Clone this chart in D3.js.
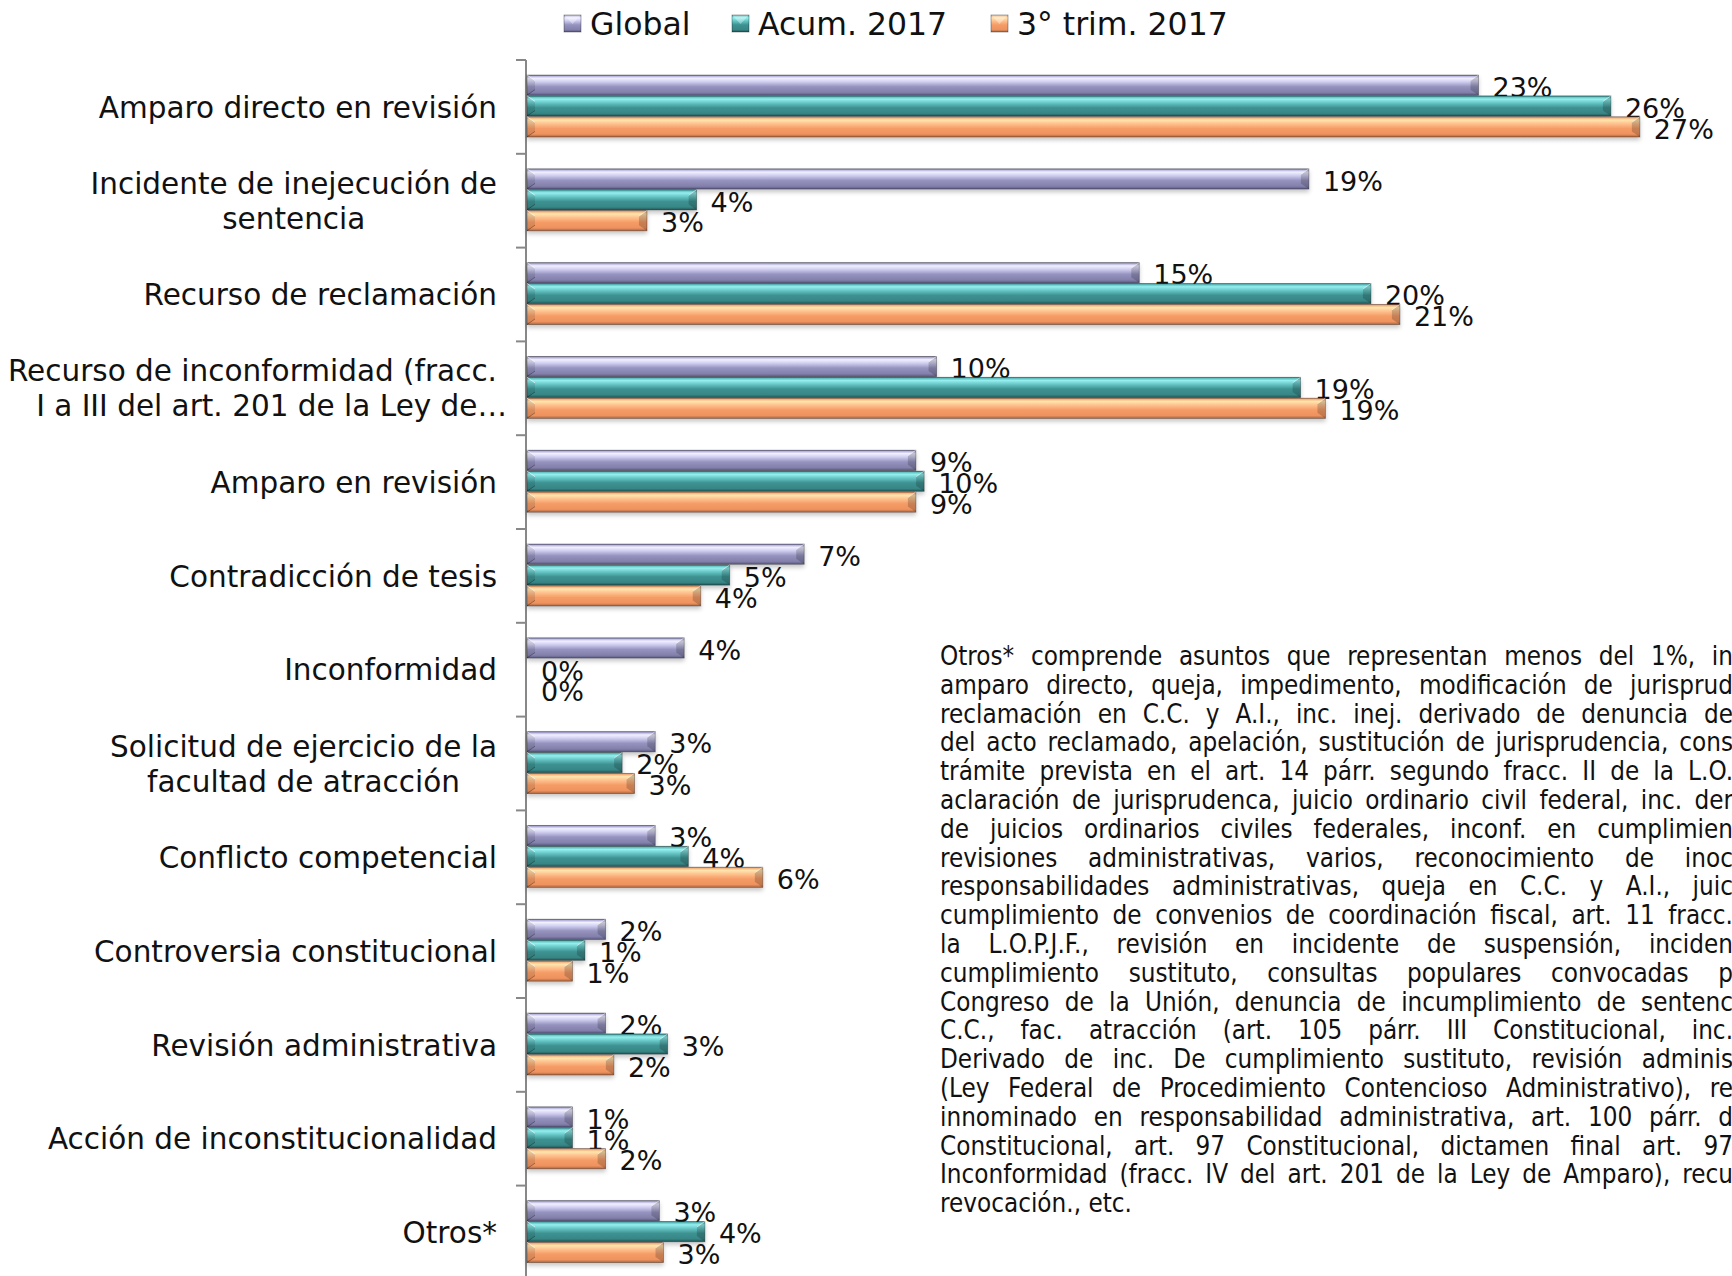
<!DOCTYPE html>
<html><head><meta charset="utf-8">
<script src="https://cdn.jsdelivr.net/npm/d3@7"></script>
<style>html,body{margin:0;padding:0;background:#fff;overflow:hidden}</style>
</head><body><svg id="chart" width="1732" height="1276"></svg>
<script>
// ---------------- DATA ----------------
const categories = [
  "Amparo directo en revisión",
  "Incidente de inejecución de sentencia",
  "Recurso de reclamación",
  "Recurso de inconformidad (fracc. I a III del art. 201 de la Ley de…",
  "Amparo en revisión",
  "Contradicción de tesis",
  "Inconformidad",
  "Solicitud de ejercicio de la facultad de atracción",
  "Conflicto competencial",
  "Controversia constitucional",
  "Revisión administrativa",
  "Acción de inconstitucionalidad",
  "Otros*"
];
const categoryLines = [
  ["Amparo directo en revisión"],
  ["Incidente de inejecución de", "sentencia"],
  ["Recurso de reclamación"],
  ["Recurso de inconformidad (fracc.", "I a III del art. 201 de la Ley de…"],
  ["Amparo en revisión"],
  ["Contradicción de tesis"],
  ["Inconformidad"],
  ["Solicitud de ejercicio de la", "facultad de atracción"],
  ["Conflicto competencial"],
  ["Controversia constitucional"],
  ["Revisión administrativa"],
  ["Acción de inconstitucionalidad"],
  ["Otros*"]
];
const seriesNames = ["Global", "Acum. 2017", "3° trim. 2017"];
const globalValues = [23.0, 18.9, 14.8, 9.9, 9.4, 6.7, 3.8, 3.1, 3.1, 1.9, 1.9, 1.1, 3.2];
const acumValues   = [26.2, 4.1, 20.4, 18.7, 9.6, 4.9, 0, 2.3, 3.9, 1.4, 3.4, 1.1, 4.3];
const trimValues   = [26.9, 2.9, 21.1, 19.3, 9.4, 4.2, 0, 2.6, 5.7, 1.1, 2.1, 1.9, 3.3];
const noteLines = [
  "Otros* comprende asuntos que representan menos del 1%, in",
  "amparo directo, queja, impedimento, modificación de jurisprud",
  "reclamación en C.C. y A.I., inc. inej. derivado de denuncia de",
  "del acto reclamado, apelación, sustitución de jurisprudencia, cons",
  "trámite prevista en el art. 14 párr. segundo fracc. II de la L.O.",
  "aclaración de jurisprudenca, juicio ordinario civil federal, inc. der",
  "de juicios ordinarios civiles federales, inconf. en cumplimien",
  "revisiones administrativas, varios, reconocimiento de inoc",
  "responsabilidades administrativas, queja en C.C. y A.I., juic",
  "cumplimiento de convenios de coordinación fiscal, art. 11 fracc.",
  "la L.O.P.J.F., revisión en incidente de suspensión, inciden",
  "cumplimiento sustituto, consultas populares convocadas p",
  "Congreso de la Unión, denuncia de incumplimiento de sentenc",
  "C.C., fac. atracción (art. 105 párr. III Constitucional, inc.",
  "Derivado de inc. De cumplimiento sustituto, revisión adminis",
  "(Ley Federal de Procedimiento Contencioso Administrativo), re",
  "innominado en responsabilidad administrativa, art. 100 párr. d",
  "Constitucional, art. 97 Constitucional, dictamen final art. 97",
  "Inconformidad (fracc. IV del art. 201 de la Ley de Amparo), recu",
  "revocación., etc."
];

// ---------------- STYLE ----------------
const seriesValues = [globalValues, acumValues, trimValues];
const gradStops = [
  [[0,"#5e5c84"],[0.06,"#b4b2dc"],[0.16,"#f1f0ff"],[0.32,"#d3d1f2"],[0.58,"#9593bf"],[0.86,"#8381ab"],[1,"#5a5880"]],
  [[0,"#2a6a6a"],[0.06,"#5fc0c0"],[0.16,"#96eeee"],[0.32,"#6ccccc"],[0.58,"#3e9292"],[0.86,"#388686"],[1,"#225656"]],
  [[0,"#b87250"],[0.06,"#f5b27c"],[0.16,"#ffe6ae"],[0.32,"#ffc592"],[0.58,"#f59c66"],[0.86,"#ee925e"],[1,"#a96440"]]
];
const mainFont = "'DejaVu Sans', Verdana, sans-serif";

const svg = d3.select("#chart");
svg.append("rect").attr("width",1732).attr("height",1276).attr("fill","#fff");
const defs = svg.append("defs");
gradStops.forEach((stops,i)=>{
  const g = defs.append("linearGradient").attr("id","g"+i).attr("x1",0).attr("y1",0).attr("x2",0).attr("y2",1);
  stops.forEach(s=>g.append("stop").attr("offset",s[0]).attr("stop-color",s[1]));
});
const f = defs.append("filter").attr("id","sh").attr("x","-5%").attr("y","-30%").attr("width","110%").attr("height","180%");
f.append("feDropShadow").attr("dx",0).attr("dy",3).attr("stdDeviation",2).attr("flood-color","#000").attr("flood-opacity",0.22);

// ---------------- SCALES ----------------
const x = d3.scaleLinear().domain([0,30]).range([527, 527 + 30*41.37]);
const y0 = d3.scaleBand().domain(categories).range([60, 60 + 13*93.8]).padding(0);
const y1 = d3.scaleBand().domain(seriesNames).range([15, 77]).paddingInner(0.03);

// ---------------- AXIS ----------------
const axisG = svg.append("g");
axisG.append("line").attr("x1",526).attr("x2",526).attr("y1",y0.range()[0]).attr("y2",1276)
  .attr("stroke","#888").attr("stroke-width",2);
const tickYs = categories.map(c=>y0(c)).concat([y0.range()[1]]);
axisG.selectAll("line.tick").data(tickYs).join("line").attr("class","tick")
  .attr("x1",516).attr("x2",526).attr("y1",d=>d).attr("y2",d=>d).attr("stroke","#888").attr("stroke-width",2);

// category labels (multi-line labels are centred within their block, block right-aligned)
const lblG = svg.append("g").attr("font-family",mainFont).attr("font-size",29.5).attr("fill","#111");
const labelRight = 497;
categories.forEach((c,i)=>{
  const lines = categoryLines[i];
  const cy = y0(c) + y0.bandwidth()/2;
  const lh = 35;
  const texts = lines.map((l,j)=>lblG.append("text")
      .attr("y", cy + (j - (lines.length-1)/2)*lh).attr("dy","0.36em").text(l));
  if (lines.length === 1) {
    texts[0].attr("x",labelRight).attr("text-anchor","end");
  } else {
    const widths = texts.map(t=>t.node().getComputedTextLength());
    const bw = Math.max(...widths);
    const cx = labelRight - bw/2;
    texts.forEach((t,j)=>{
      t.attr("text-anchor","middle").attr("x", cx);
    });
    if (i === 3) texts[1].attr("text-anchor","end").attr("x", 507);
  }
});

// ---------------- BARS ----------------
const barsG = svg.append("g");
categories.forEach((c,ci)=>{
  const g = barsG.append("g").attr("transform",`translate(0,${y0(c)})`);
  seriesNames.forEach((s,si)=>{
    const v = seriesValues[si][ci];
    const x0 = x(0), x1 = x(v), yt = y1(s), h = y1.bandwidth(), yb = yt + h;
    if (x1 - x0 > 0.5) {
      const bg = g.append("g").attr("filter","url(#sh)");
      bg.append("rect").attr("x",x0).attr("y",yt).attr("width",x1-x0).attr("height",h)
        .attr("fill",`url(#g${si})`).attr("stroke","rgba(0,0,0,0.35)").attr("stroke-width",0.8);
      const b = Math.min(8, (x1-x0)/2);
      bg.append("polygon").attr("points",`${x0},${yt} ${x0+b},${yt+b*0.7} ${x0+b},${yb-b*0.7} ${x0},${yb}`)
        .attr("fill","rgba(0,0,0,0.10)");
      bg.append("line").attr("x1",x0).attr("y1",yt).attr("x2",x0+b).attr("y2",yt+b*0.7).attr("stroke","rgba(255,255,255,0.6)").attr("stroke-width",1);
      bg.append("line").attr("x1",x0).attr("y1",yb).attr("x2",x0+b).attr("y2",yb-b*0.7).attr("stroke","rgba(0,0,0,0.3)").attr("stroke-width",1);
      bg.append("polygon").attr("points",`${x1},${yt} ${x1-b},${yt+b*0.7} ${x1-b},${yb-b*0.7} ${x1},${yb}`)
        .attr("fill","rgba(0,0,0,0.18)");
      bg.append("line").attr("x1",x1).attr("y1",yt).attr("x2",x1-b).attr("y2",yt+b*0.7).attr("stroke","rgba(255,255,255,0.5)").attr("stroke-width",1);
    }
    g.append("text").attr("x",x1+14).attr("y",yt+h/2+2).attr("dy","0.36em")
      .attr("font-family",mainFont).attr("font-size",27).attr("fill","#111")
      .text(Math.round(v)+"%");
  });
});

// ---------------- LEGEND ----------------
const legendX = [564, 732, 991];
const legG = svg.append("g").attr("font-family",mainFont).attr("font-size",31.5).attr("fill","#111");
seriesNames.forEach((s,i)=>{
  const lx = legendX[i];
  legG.append("rect").attr("x",lx).attr("y",15).attr("width",17).attr("height",17)
    .attr("fill",`url(#g${i})`).attr("stroke","rgba(0,0,0,0.4)").attr("stroke-width",0.8);
  legG.append("polygon").attr("points",`${lx},${15} ${lx+17},${15} ${lx+8.5},${24}`).attr("fill","rgba(255,255,255,0.35)");
  legG.append("text").attr("x",lx+26).attr("y",24).attr("dy","0.36em").text(s);
});

// ---------------- NOTE ----------------
const noteG = svg.append("g").attr("font-family","'DejaVu Sans Condensed','DejaVu Sans',sans-serif")
  .style("font-stretch","condensed").attr("font-size",25.8).attr("fill","#111");
const noteX = 940, noteTarget = 1733, noteY0 = 665, noteLH = 28.8;
noteLines.forEach((l,i)=>{
  const t = noteG.append("text").attr("x",noteX).attr("y",noteY0 + i*noteLH).text(l);
  if (i < noteLines.length - 1) {
    const w = t.node().getComputedTextLength();
    const spaces = (l.match(/ /g) || []).length;
    if (spaces > 0) t.style("word-spacing", ((noteTarget - noteX - w)/spaces) + "px");
  }
});
</script>
</body></html>
